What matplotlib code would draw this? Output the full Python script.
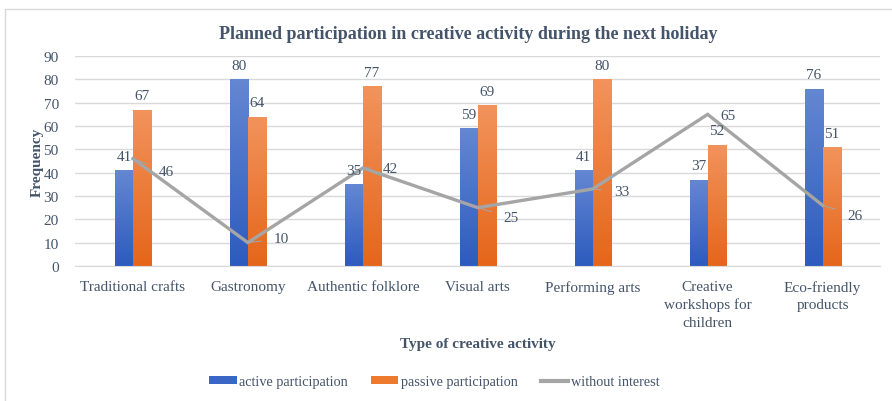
import matplotlib.pyplot as plt
import numpy as np
from matplotlib.colors import LinearSegmentedColormap
from matplotlib.lines import Line2D
from matplotlib.patches import Patch, Rectangle

plt.rcParams["font.family"] = ["Liberation Serif", "DejaVu Serif"]

categories = [
    "Traditional crafts",
    "Gastronomy",
    "Authentic folklore",
    "Visual arts",
    "Performing arts",
    "Creative\nworkshops for\nchildren",
    "Eco-friendly\nproducts",
]
active = [41, 80, 35, 59, 41, 37, 76]
passive = [67, 64, 77, 69, 80, 52, 51]
no_interest = [46, 10, 42, 25, 33, 65, 26]

# label offsets (points) for the line series, as placed in the source
line_label_offsets = [(24, -9), (24, 3), (20, 0), (24, -7), (21, -2), (15, -1), (23, -7)]

TXT = "#44546A"
BLUE_TOP, BLUE_BOT = "#6487D2", "#2D5BBE"
ORANGE_TOP, ORANGE_BOT = "#F2935C", "#E5661A"
GREY = "#A5A5A5"

fig = plt.figure(figsize=(8.92, 4.02), dpi=100)
ax = fig.add_axes([0.0846, 0.336, 0.902, 0.522])

# chart frame
fig.patches.append(Rectangle((0.006, -0.01), 1.0, 0.985, transform=fig.transFigure,
                             fill=False, edgecolor="#D9D9D9", linewidth=1.0))

x = np.arange(len(categories))
w = 0.157


def gradient_bars(bars, top, bot):
    cmap = LinearSegmentedColormap.from_list("g", [bot, top])
    grad = np.linspace(0, 1, 100).reshape(-1, 1)
    for b in bars:
        x0, y0 = b.get_x(), b.get_y()
        im = ax.imshow(grad, cmap=cmap, aspect="auto", origin="lower",
                       extent=(x0, x0 + b.get_width(), y0, y0 + b.get_height()),
                       zorder=2)
        im.set_clip_path(b)


b1 = ax.bar(x - w / 2, active, w, color="none", edgecolor="none", zorder=2)
b2 = ax.bar(x + w / 2, passive, w, color="none", edgecolor="none", zorder=2)
gradient_bars(b1, BLUE_TOP, BLUE_BOT)
gradient_bars(b2, ORANGE_TOP, ORANGE_BOT)

ax.plot(x, no_interest, color=GREY, linewidth=2.4, zorder=3, solid_joinstyle="miter")

for xi, v in zip(x - w / 2, active):
    ax.annotate(str(v), (xi, v), xytext=(0, 10), textcoords="offset points",
                ha="center", va="center", fontsize=11, color=TXT)
for xi, v in zip(x + w / 2, passive):
    ax.annotate(str(v), (xi, v), xytext=(0, 10), textcoords="offset points",
                ha="center", va="center", fontsize=11, color=TXT)
for xi, v, off in zip(x, no_interest, line_label_offsets):
    ax.annotate(str(v), (xi, v), xytext=off, textcoords="offset points",
                ha="center", va="center", fontsize=11, color=TXT, zorder=4,
                arrowprops=dict(arrowstyle="-", color=GREY, linewidth=0.8,
                                shrinkA=7, shrinkB=0))

ax.set_xlim(-0.5, len(categories) - 0.5)
ax.set_ylim(0, 90)
ax.set_yticks(range(0, 91, 10))
ax.set_xticks(x)
ax.set_xticklabels(categories, fontsize=11, color=TXT, linespacing=1.45)
ax.tick_params(axis="y", labelsize=11, labelcolor=TXT, length=0, pad=12)
ax.tick_params(axis="x", length=0, pad=10)
ax.grid(axis="y", color="#D9D9D9", linewidth=1.0, zorder=0)
ax.set_axisbelow(True)
for s in ["top", "right", "left"]:
    ax.spines[s].set_visible(False)
ax.spines["bottom"].set_color("#D9D9D9")

ax.set_ylabel("Frequency", fontsize=11, fontweight="bold", color=TXT, labelpad=0)
ax.set_xlabel("Type of creative activity", fontsize=11, fontweight="bold", color=TXT,
              labelpad=6)
fig.text(0.525, 0.914, "Planned participation in creative activity during the next holiday",
         ha="center", va="center", fontsize=13, fontweight="bold", color=TXT)

handles = [
    Patch(facecolor="#3A67C6", label="active participation"),
    Patch(facecolor="#EE7A2E", label="passive participation"),
    Line2D([0], [0], color=GREY, linewidth=3, label="without interest"),
]
leg = fig.legend(handles=handles, loc="center", bbox_to_anchor=(0.487, 0.048), ncol=3,
                 frameon=False, fontsize=10.3, handlelength=1.9, handleheight=0.45,
                 handletextpad=0.2, columnspacing=1.6)
for t in leg.get_texts():
    t.set_color(TXT)

fig.savefig("out.png", dpi=100)
